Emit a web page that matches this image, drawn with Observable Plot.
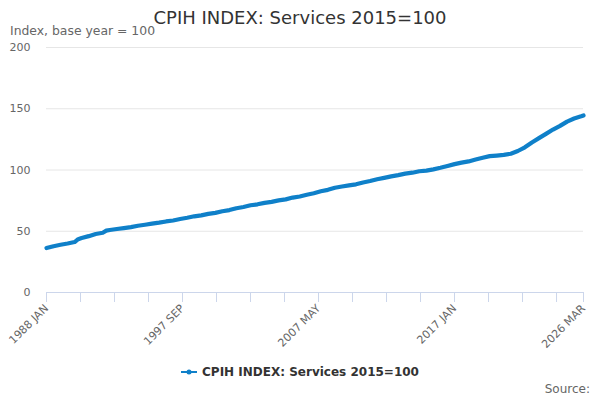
<!DOCTYPE html>
<html><head><meta charset="utf-8">
<script src="https://cdn.jsdelivr.net/npm/d3@7"></script>
<script src="https://cdn.jsdelivr.net/npm/@observablehq/plot@0.6"></script>
<style>
body{margin:0;background:#fff;font-family:"DejaVu Sans",sans-serif;}
#wrap{position:relative;width:600px;height:400px;overflow:hidden;}
#chart{position:absolute;left:0;top:0;}
#title{position:absolute;left:0;width:600px;top:7px;text-align:center;font-size:18px;line-height:1.2;color:#333;}
#sub{position:absolute;left:10px;top:24px;font-size:12.4px;line-height:1.2;color:#666;}
#legend{position:absolute;top:365px;left:0;width:600px;text-align:center;font-size:12px;line-height:1.2;font-weight:bold;color:#333;}
#legend svg{vertical-align:-1px;margin-right:5px;}
#source{position:absolute;right:10px;top:382px;font-size:12px;line-height:1.2;color:#666;}
</style></head>
<body><div id="wrap">
<div id="chart"></div>
<div id="title">CPIH INDEX: Services 2015=100</div>
<div id="sub">Index, base year = 100</div>
<div id="legend"><svg width="16" height="10"><line x1="0" y1="5" x2="16" y2="5" stroke="#0f80c9" stroke-width="2"/><circle cx="8" cy="5" r="2.5" fill="#0f80c9"/></svg><span>CPIH INDEX: Services 2015=100</span></div>
<div id="source">Source:</div>
</div>
<script>
const months = ["1988-01","1988-07","1989-01","1989-07","1990-01","1990-04","1990-07","1991-01","1991-07","1992-01","1992-04","1992-07",
"1993-01","1993-07","1994-01","1994-07","1995-01","1995-07","1996-01","1996-07","1997-01","1997-07","1998-01","1998-07",
"1999-01","1999-07","2000-01","2000-07","2001-01","2001-07","2002-01","2002-07","2003-01","2003-07","2004-01","2004-07",
"2005-01","2005-07","2006-01","2006-07","2007-01","2007-07","2008-01","2008-07","2009-01","2009-07","2010-01","2010-07",
"2011-01","2011-07","2012-01","2012-07","2013-01","2013-07","2014-01","2014-07","2015-01","2015-07","2016-01","2016-07",
"2017-01","2017-07","2018-01","2018-07","2019-01","2019-07","2020-01","2020-07","2021-01","2021-07","2022-01","2022-07",
"2023-01","2023-07","2024-01","2024-07","2025-01","2025-07","2026-01","2026-03"];
const values = [36.3,37.8,39.0,40.0,41.2,43.5,44.5,46.0,47.8,48.8,50.5,51.0,
51.8,52.6,53.4,54.5,55.3,56.2,57.0,58.0,58.8,60.0,61.0,62.2,
63.0,64.2,65.0,66.3,67.3,68.8,69.8,71.2,72.0,73.2,74.0,75.2,
76.0,77.5,78.4,79.8,81.0,82.6,83.8,85.5,86.5,87.4,88.3,89.8,
91.0,92.5,93.6,94.8,95.8,97.0,97.8,99.0,99.5,100.5,101.8,103.3,
104.8,106.0,107.0,108.5,110.0,111.3,111.8,112.3,113.3,115.5,118.5,122.5,
126.0,129.5,133.0,136.0,139.5,142.0,143.8,144.5];
const tickLabels = ["1988 JAN","1997 SEP","2007 MAY","2017 JAN","2026 MAR"];
const yTicks = [0,50,100,150,200];
const MON = ["JAN","FEB","MAR","APR","MAY","JUN","JUL","AUG","SEP","OCT","NOV","DEC"];

const idx = s => (+s.slice(0,4) - 1988) * 12 + (+s.slice(5,7) - 1);
const data = months.map((m, i) => ({x: idx(m), y: values[i]}));
const labelIdx = tickLabels.map(l => (+l.slice(0,4) - 1988) * 12 + MON.indexOf(l.slice(5)));
const last = idx(months[months.length - 1]);
const xTicks = d3.range(0, last + 1, 29);
if (xTicks[xTicks.length - 1] !== last) xTicks.push(last);
const blue = "#0f80c9";

const chart = Plot.plot({
  width: 600, height: 400,
  marginLeft: 46, marginRight: 17, marginTop: 47, marginBottom: 108,
  style: {fontFamily: "DejaVu Sans", fontSize: "11px", background: "transparent"},
  x: {domain: [0, last]},
  y: {domain: [0, 200]},
  marks: [
    Plot.ruleY(yTicks.filter(d => d > 0), {stroke: "#e6e6e6"}),
    Plot.ruleY([0], {stroke: "#ccd6eb"}),
    Plot.axisY({ticks: yTicks, tickSize: 0, tickPadding: 16, fill: "#666", label: null}),
    Plot.axisX({ticks: xTicks, tickSize: 10, stroke: "#ccd6eb", tickRotate: -45, tickPadding: 4, fill: "#666", label: null,
      tickFormat: d => { const k = labelIdx.indexOf(d); return k >= 0 ? tickLabels[k] : ""; }}),
    Plot.line(data, {x: "x", y: "y", stroke: blue, strokeWidth: 4.2, strokeLinejoin: "round", strokeLinecap: "round"})
  ]
});
document.getElementById("chart").appendChild(chart);
</script>
</body></html>
